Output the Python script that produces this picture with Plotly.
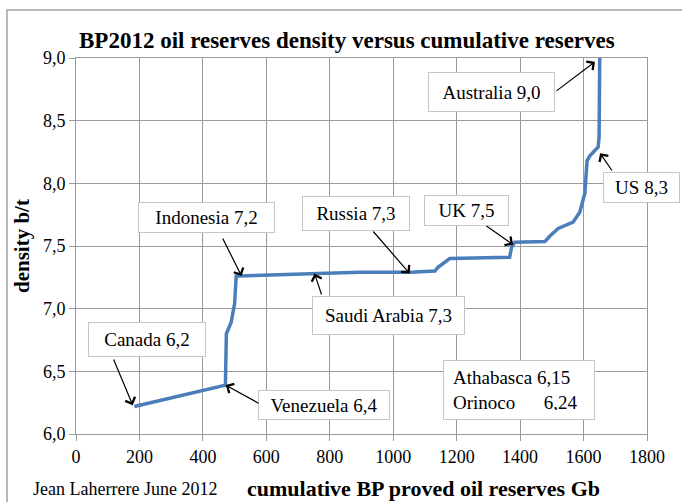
import plotly.graph_objects as go

# ---- data ----
cum_reserves = [184, 471, 474, 489, 500, 505, 510, 737, 894, 1057, 1131, 1141, 1178,
                1367, 1373, 1383, 1478, 1494, 1520, 1567, 1588, 1604, 1611, 1620,
                1646, 1649, 1651]
density = [6.22, 6.39, 6.80, 6.89, 7.04, 7.26, 7.26, 7.28, 7.29, 7.29, 7.30, 7.33, 7.40,
           7.41, 7.49, 7.53, 7.535, 7.58, 7.64, 7.69, 7.77, 7.92, 8.18, 8.22,
           8.29, 8.37, 9.0]

x_ticks = [0, 200, 400, 600, 800, 1000, 1200, 1400, 1600, 1800]
x_tick_labels = ["0", "200", "400", "600", "800", "1000", "1200", "1400", "1600", "1800"]
y_ticks = [6.0, 6.5, 7.0, 7.5, 8.0, 8.5, 9.0]
y_tick_labels = ["6,0", "6,5", "7,0", "7,5", "8,0", "8,5", "9,0"]

labels = ["Australia 9,0", "US 8,3", "UK 7,5", "Russia 7,3", "Indonesia 7,2",
          "Saudi Arabia 7,3", "Canada 6,2", "Venezuela 6,4"]
# arrow head points (data coords)
label_x = [1636, 1652, 1378, 1052, 522, 752, 179, 472]
label_y = [8.97, 8.24, 7.51, 7.28, 7.26, 7.28, 6.23, 6.39]

note_text = "Athabasca 6,15<br>Orinoco&nbsp;&nbsp;&nbsp;&nbsp;&nbsp;&nbsp;6,24"

# ---- layout geometry (pixels) ----
W, H = 682, 502
L, R, T, B = 76, 35, 58, 68
PW, PH = W - L - R, H - T - B
XMIN, XMAX, YMIN, YMAX = 0, 1800, 6.0, 9.0


def px2x(px):
    return XMIN + (px - L) / PW * (XMAX - XMIN)


def py2y(py):
    return YMAX - (py - T) / PH * (YMAX - YMIN)


def px2paper(px):
    return (px - L) / PW


def py2paper(py):
    return (H - B - py) / PH


# box centres / sizes in pixels, arrow tails in pixels
boxes = [(491.5, 92, 127, 40), (641, 187.5, 77, 31), (466.5, 210.5, 85, 31),
         (356, 213.5, 108, 35), (206.5, 217.5, 137, 31), (388.5, 315.5, 153, 39),
         (147, 339.5, 118, 35), (324, 405, 132, 30)]
tails = [(555, 92), (613, 172), (485, 225), (372, 230), (222, 237), (322, 296),
         (113, 358), (260, 404)]

FONT = "Liberation Serif"
GRID = "#9a9a9a"
BOXFONT = 19

fig = go.Figure()
fig.add_trace(go.Scatter(x=cum_reserves, y=density, mode="lines",
                         line=dict(color="#4a7ebb", width=3.5), cliponaxis=False,
                         hoverinfo="skip", showlegend=False))

annotations = []
for i, lab in enumerate(labels):
    cx, cy, bw, bh = boxes[i]
    annotations.append(dict(x=px2x(cx), y=py2y(cy), xref="x", yref="y", text=lab,
                            showarrow=False, bgcolor="white", bordercolor="#c6c6c6",
                            borderwidth=1, borderpad=0, width=bw - 2, height=bh - 2,
                            font=dict(family=FONT, size=BOXFONT, color="black"),
                            xanchor="center", yanchor="middle"))
    tx, ty = tails[i]
    annotations.append(dict(x=label_x[i], y=label_y[i], xref="x", yref="y",
                            ax=px2x(tx), ay=py2y(ty), axref="x", ayref="y", text="",
                            showarrow=True, arrowhead=4, arrowsize=1.7, arrowwidth=1.2,
                            arrowcolor="black", standoff=0, startstandoff=0))

annotations.append(dict(x=px2x(519), y=py2y(390), xref="x", yref="y", text=note_text,
                        showarrow=False, bgcolor="white", bordercolor="#c6c6c6",
                        borderwidth=1, borderpad=9, width=132, height=40, align="left",
                        font=dict(family=FONT, size=BOXFONT, color="black"),
                        xanchor="center", yanchor="middle"))

annotations.append(dict(x=px2paper(346.5), y=py2paper(40), xref="paper", yref="paper",
                        text="<b>BP2012 oil reserves density versus cumulative reserves</b>",
                        showarrow=False, font=dict(family=FONT, size=23, color="black"),
                        xanchor="center", yanchor="middle"))
annotations.append(dict(x=px2paper(22), y=py2paper(246), xref="paper", yref="paper",
                        text="<b>density b/t</b>", textangle=-90, showarrow=False,
                        font=dict(family=FONT, size=21, color="black"),
                        xanchor="center", yanchor="middle"))
annotations.append(dict(x=px2paper(423.5), y=py2paper(489), xref="paper", yref="paper",
                        text="<b>cumulative BP proved oil reserves Gb</b>", showarrow=False,
                        font=dict(family=FONT, size=22, color="black"),
                        xanchor="center", yanchor="middle"))
annotations.append(dict(x=px2paper(125), y=py2paper(489), xref="paper", yref="paper",
                        text="Jean Laherrere June 2012", showarrow=False,
                        font=dict(family=FONT, size=18, color="black"),
                        xanchor="center", yanchor="middle"))

# outer chart frame
shapes = [dict(type="rect", xref="paper", yref="paper",
               x0=px2paper(7), x1=px2paper(700), y0=py2paper(520), y1=py2paper(10),
               line=dict(color="#a0a0a0", width=1.5), fillcolor="rgba(0,0,0,0)",
               layer="below")]

fig.update_layout(
    width=W, height=H, margin=dict(l=L, r=R, t=T, b=B),
    paper_bgcolor="white", plot_bgcolor="white",
    annotations=annotations, shapes=shapes, showlegend=False,
    font=dict(family=FONT, size=18, color="black"),
)
fig.update_xaxes(range=[XMIN, XMAX], tickvals=x_ticks, ticktext=x_tick_labels,
                 showgrid=True, gridcolor=GRID, gridwidth=1, showline=True,
                 linecolor=GRID, linewidth=1, mirror=True, ticks="outside",
                 ticklen=6, tickcolor=GRID, zeroline=False,
                 tickfont=dict(family=FONT, size=18, color="black"))
fig.update_yaxes(range=[YMIN, YMAX], tickvals=y_ticks, ticktext=y_tick_labels,
                 showgrid=True, gridcolor=GRID, gridwidth=1, showline=True,
                 linecolor=GRID, linewidth=1, mirror=True, ticks="outside",
                 ticklen=6, tickcolor=GRID, zeroline=False,
                 tickfont=dict(family=FONT, size=18, color="black"))

fig.write_html("out.html")
